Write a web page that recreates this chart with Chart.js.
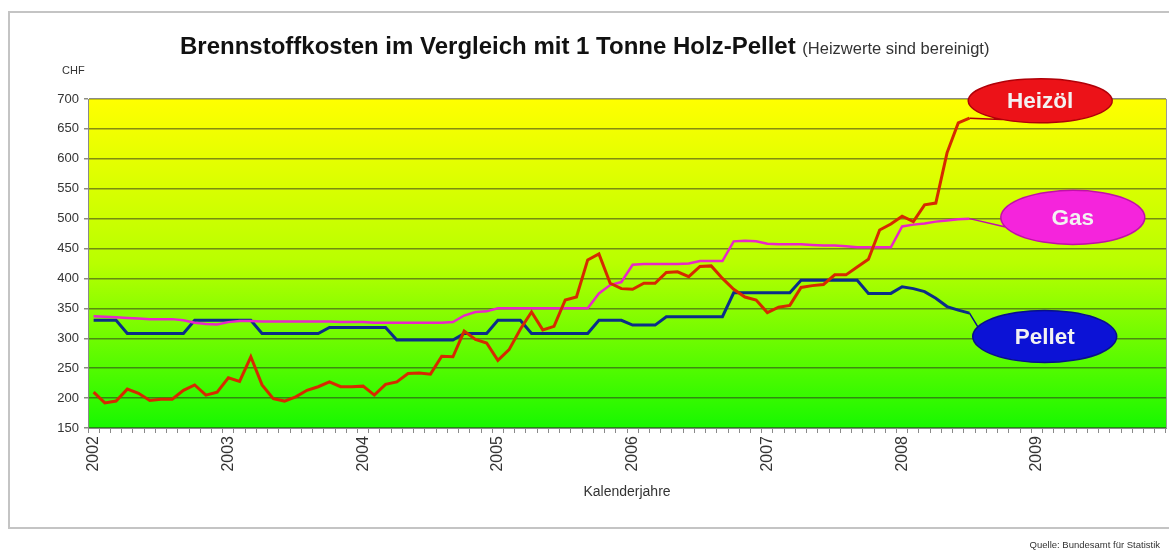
<!DOCTYPE html>
<html><head><meta charset="utf-8">
<script src="https://cdn.jsdelivr.net/npm/chart.js@4.4.1/dist/chart.umd.min.js"></script>
<style>html,body{margin:0;padding:0;background:#fff}canvas{display:block}</style>
</head><body>
<canvas id="c" width="1169" height="554"></canvas>
<script>
// ---- data ----
const years = ['2002','2003','2004','2005','2006','2007','2008','2009'];
const monthsPerYear = 12;
const heizoel = [210,192,195,215,208,196,198,198,213,222,205,210,
  234,228,269,222,199,195,202,213,219,227,219,219,
  220,205,223,227,241,242,240,270,269,312,298,292,
  263,281,315,344,314,320,364,369,431,441,392,383,
  382,392,392,410,411,403,420,421,400,382,369,364,
  343,352,355,385,388,390,406,406,419,432,481,491,
  504,495,523,526,610,660,668];
const gas = [337,336,335,334,333,332,332,332,330,326,324,323,
  327,329,329,328,328,328,328,328,328,328,327,327,
  327,326,326,326,326,326,326,326,327,338,344,345,
  350,350,350,350,350,350,350,350,350,375,389,394,
  423,424,424,424,424,425,429,429,429,462,463,462,
  458,457,457,457,456,455,455,454,452,452,452,452,
  487,490,492,495,497,499,500];
const pellet = [330,330,330,308,308,308,308,308,308,330,330,330,
  330,330,330,308,308,308,308,308,308,318,318,318,
  318,318,318,297,297,297,297,297,297,308,308,308,
  330,330,330,308,308,308,308,308,308,330,330,330,
  322,322,322,336,336,336,336,336,336,376,376,376,
  376,376,376,397,397,397,397,397,397,375,375,375,
  386,383,378,367,353,347,342];
const seriesNames = ['Heizöl','Gas','Pellet'];
// callout anchor (category index, value)
const calloutIdx = [84.3, 87.2, 84.7];
const calloutVal = [697, 502, 303];

const categories = [];
years.forEach(y => { for (let m = 1; m <= monthsPerYear; m++) categories.push(y + '-' + String(m).padStart(2,'0')); });

Chart.defaults.font.family = '"Liberation Sans", Arial, sans-serif';

const bgPlugin = {
  id: 'bg',
  beforeDraw(chart) {
    const {ctx, chartArea: a} = chart;
    ctx.save();
    ctx.fillStyle = '#ffffff';
    ctx.fillRect(0, 0, chart.width, chart.height);
    ctx.strokeStyle = '#c4c4c4';
    ctx.lineWidth = 2;
    ctx.strokeRect(9, 12, 1175, 516);
    const g = ctx.createLinearGradient(0, a.top, 0, a.bottom);
    g.addColorStop(0, '#ffff00');
    g.addColorStop(0.5, '#b8ff00');
    g.addColorStop(1, '#18f800');
    ctx.fillStyle = g;
    ctx.fillRect(a.left, a.top, a.right - a.left, a.bottom - a.top);
    ctx.restore();
  },
  afterDatasetsDraw(chart) {
    const {ctx, chartArea: a} = chart;
    ctx.save();
    ctx.strokeStyle = '#9a9a9a';
    ctx.lineWidth = 1;
    ctx.beginPath();
    ctx.moveTo(a.right + 0.5, a.top);
    ctx.lineTo(a.right + 0.5, a.bottom);
    ctx.stroke();
    const xs = chart.scales.x, ys = chart.scales.y;
    const fills = ['#ec1218', '#f524dc', '#0c12d6'];
    const edges = ['#b00008', '#c010a8', '#08108a'];
    chart.data.datasets.forEach((ds, k) => {
      const last = ds.data.length - 1;
      const tx = xs.getPixelForValue(last), ty = ys.getPixelForValue(ds.data[last]);
      const cx = xs.getPixelForValue(calloutIdx[k]), cy = ys.getPixelForValue(calloutVal[k]);
      const rx = 72, ry = k === 0 ? 22 : (k === 1 ? 27 : 26);
      const phi = Math.atan2((ty - cy) / ry, (tx - cx) / rx);
      const d = 0.33;
      ctx.fillStyle = fills[k];
      ctx.strokeStyle = edges[k];
      ctx.lineWidth = 1.5;
      ctx.beginPath();
      ctx.moveTo(tx, ty);
      ctx.lineTo(cx + rx * Math.cos(phi - d), cy + ry * Math.sin(phi - d));
      ctx.ellipse(cx, cy, rx, ry, 0, phi - d, phi + d + 2 * Math.PI - 2 * d, false);
      ctx.lineTo(tx, ty);
      ctx.closePath();
      ctx.fill();
      ctx.stroke();
      ctx.fillStyle = '#f2f2f2';
      ctx.font = 'bold 22.5px "Liberation Sans", Arial, sans-serif';
      ctx.textAlign = 'center';
      ctx.textBaseline = 'middle';
      ctx.fillText(ds.label, cx, cy + 1);
    });
    ctx.restore();
  },
  afterDraw(chart) {
    const {ctx} = chart;
    ctx.save();
    ctx.fillStyle = '#111';
    ctx.textBaseline = 'alphabetic';
    ctx.textAlign = 'left';
    const t1 = 'Brennstoffkosten im Vergleich mit 1 Tonne Holz-Pellet';
    ctx.font = 'bold 24px "Liberation Sans", Arial, sans-serif';
    const w1 = ctx.measureText(t1 + ' ').width;
    ctx.fillText(t1, 180, 54);
    ctx.font = '16.5px "Liberation Sans", Arial, sans-serif';
    ctx.fillStyle = '#333';
    ctx.fillText('(Heizwerte sind bereinigt)', 180 + w1, 54);
    ctx.font = '11px "Liberation Sans", Arial, sans-serif';
    ctx.fillText('CHF', 62, 74);
    ctx.textAlign = 'right';
    ctx.font = '9.5px "Liberation Sans", Arial, sans-serif';
    ctx.fillText('Quelle: Bundesamt für Statistik', 1160, 548);
    ctx.restore();
  }
};

new Chart(document.getElementById('c'), {
  type: 'line',
  data: {
    labels: categories,
    datasets: [
      {label: seriesNames[0], data: heizoel, borderColor: '#d62a00', borderWidth: 3, pointRadius: 0, tension: 0},
      {label: seriesNames[1], data: gas, borderColor: '#e926c8', borderWidth: 2.5, pointRadius: 0, tension: 0},
      {label: seriesNames[2], data: pellet, borderColor: '#0b2e88', borderWidth: 3, pointRadius: 0, tension: 0}
    ]
  },
  options: {
    responsive: false,
    animation: false,
    layout: {padding: {top: 99, right: 3, bottom: 0, left: 0}},
    plugins: {legend: {display: false}, tooltip: {enabled: false}, title: {display: false}},
    scales: {
      x: {
        offset: true,
        grid: {drawOnChartArea: false, tickLength: 5, color: '#8a8a8a', offset: true},
        border: {color: '#8a8a8a'},
        ticks: {autoSkip: false, minRotation: 90, maxRotation: 90, color: '#333', font: {size: 16},
          callback: (v, i) => (i % monthsPerYear === 0 ? years[i / monthsPerYear] : '')},
        title: {display: true, text: 'Kalenderjahre', color: '#333', font: {size: 14}, padding: {top: 0, bottom: 53}},
        afterFit: s => { s.height = 126; s.paddingRight = 0; s.paddingLeft = 0; }
      },
      y: {
        min: 150, max: 700,
        ticks: {stepSize: 50, color: '#333', font: {size: 13}, padding: 5},
        grid: {color: 'rgba(45,45,30,0.55)', lineWidth: 1.5, tickLength: 4},
        border: {color: '#8a8a8a'},
        afterFit: s => { s.width = 88; }
      }
    }
  },
  plugins: [bgPlugin]
});
</script>
</body></html>
